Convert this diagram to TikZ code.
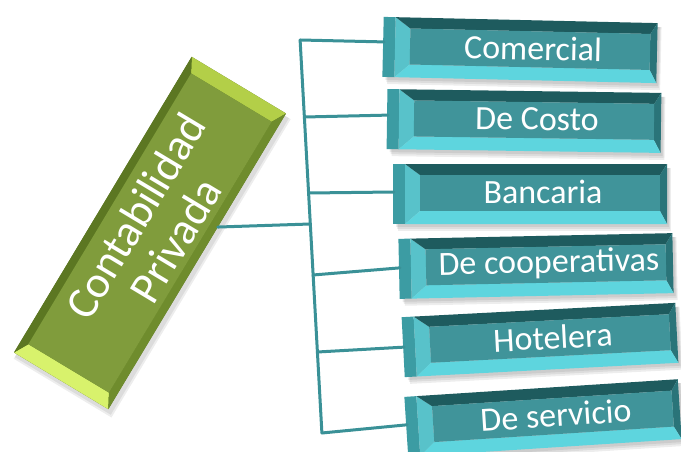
\documentclass[tikz,border=0pt]{standalone}
\usepackage{fontspec}
\setmainfont{Carlito}
\definecolor{tealline}{HTML}{3A9197}
\definecolor{tsideface}{HTML}{3C9CA3}
\definecolor{tbevL}{HTML}{58C2CA}
\definecolor{tbevT}{HTML}{1E5B5E}
\definecolor{tbevR}{HTML}{2A7479}
\definecolor{tbevB}{HTML}{5ED5DE}
\definecolor{tface}{HTML}{40949A}
\definecolor{gface}{HTML}{809C3C}
\definecolor{gbevT}{HTML}{B3CF48}
\definecolor{gbevB}{HTML}{D8F26C}
\definecolor{gbevL}{HTML}{5C7722}
\definecolor{gbevR}{HTML}{6F8C2D}
\tikzset{
  conn/.style={draw=tealline, line width=3pt, line cap=round, line join=round},
  bluetext/.style={text=white, font=\fontsize{34}{40}\selectfont, inner sep=0pt, transform shape},
  greentext/.style={text=white, font=\fontsize{45}{47}\selectfont, inner sep=0pt, align=center, transform shape},
  softshadow/.style={fill=black, opacity=0.07},
}
% name, cx, cy, angle, west-offset, text
\newcommand{\tealbox}[6]{%
  \begin{scope}[shift={(#2,#3)}, rotate=#4]
    \fill[softshadow] (-134,-26) rectangle (139,33);
    \fill[softshadow] (-133,-26) rectangle (140,35);
    \fill[softshadow] (-132,-26) rectangle (141,37);
    \fill[tsideface] (-137,-30) rectangle (-125,30);
    \fill[tbevL] (-125,-30) -- (-110,-19) -- (-110,17) -- (-125,30) -- cycle;
    \fill[tbevT] (-125,-30) -- (137,-30) -- (130,-19) -- (-110,-19) -- cycle;
    \fill[tbevR] (137,-30) -- (137,30) -- (130,17) -- (130,-19) -- cycle;
    \fill[tbevB] (-125,30) -- (137,30) -- (130,17) -- (-110,17) -- cycle;
    \fill[tface] (-110,-19) rectangle (130,17);
    \coordinate (#1w) at (-136,#5);
    \node[bluetext] (#1) at (13,-2) {#6};
  \end{scope}}
\begin{document}
\begin{tikzpicture}[x=1pt,y=-1pt]
\useasboundingbox (0,0) rectangle (681,452);
\fill[white] (0,0) rectangle (681,452);

% green main box
\begin{scope}[shift={(150,233)}, rotate=59]
  \fill[softshadow] (-176,-52) rectangle (170,60);
  \fill[softshadow] (-178,-52) rectangle (170,62);
  \fill[gbevL] (-172.5,-55) rectangle (172.5,55);
  \fill[gbevT] (172.5,-55) -- (172.5,55) -- (158,47) -- (158,-47) -- cycle;
  \fill[gbevB] (-172.5,-55) -- (-172.5,55) -- (-158,47) -- (-158,-47) -- cycle;
  \fill[gbevL] (-172.5,-55) -- (172.5,-55) -- (158,-47) -- (-158,-47) -- cycle;
  \fill[gbevR] (-172.5,55) -- (172.5,55) -- (158,47) -- (-158,47) -- cycle;
  \fill[gface] (-158,-47) rectangle (158,47);
  \coordinate (gE) at (40,55);
  \node[greentext] (main) at (7,2) {Contabilidad\\Privada};
\end{scope}

% teal boxes
\tealbox{b1}{520}{50}{-1.3}{-5}{Comercial}
\tealbox{b2}{524}{121}{-0.8}{-4}{De Costo}
\tealbox{b3}{530}{194}{0}{-2}{Bancaria}
\tealbox{b4}{536}{266}{1.2}{-1}{De cooperativas}
\tealbox{b5}{540}{340}{3}{0}{Hotelera}
\tealbox{b6}{543}{418}{3.7}{-2}{De servicio}

% trunk and junctions
\coordinate (j1) at (300.1,40);
\coordinate (j2) at (304.4,117);
\coordinate (j3) at (308.6,193);
\coordinate (jm) at (310.3,224);
\coordinate (j4) at (313,275);
\coordinate (j5) at (317.4,352);
\coordinate (j6) at (321.9,433);
\draw[conn] (j1) -- (j6);
\draw[conn] (gE) -- (jm);
\draw[conn] (j1) -- (b1w);
\draw[conn] (j2) -- (b2w);
\draw[conn] (j3) -- (b3w);
\draw[conn] (j4) -- (b4w);
\draw[conn] (j5) -- (b5w);
\draw[conn] (j6) -- (b6w);
\end{tikzpicture}
\end{document}
